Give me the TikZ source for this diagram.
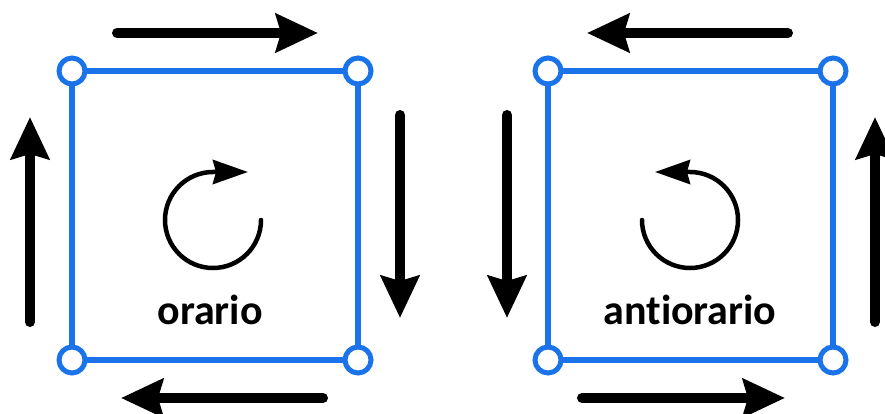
\documentclass[tikz,border=0pt]{standalone}
\usepackage{fontspec}
\setmainfont{Carlito}[Ligatures={NoCommon}]
\usetikzlibrary{arrows.meta}
\definecolor{sqblue}{RGB}{26,115,232}
\begin{document}
\begin{tikzpicture}[x=1pt,y=-1pt,
  edge/.style={draw=sqblue,line width=5.5pt},
  corner/.style={circle,draw=sqblue,fill=white,line width=5pt,minimum size=26pt,inner sep=0pt},
  bigarrow/.style={line width=10pt,line cap=round,-{Stealth[length=42pt,width=38pt,inset=5pt]}},
  rotarrow/.style={line width=4.5pt,line cap=round,-{Stealth[length=35pt,width=24pt,inset=3pt]}},
  label/.style={font=\fontsize{42}{50}\selectfont\bfseries,inner sep=0pt}]
\useasboundingbox (0,0) rectangle (885,414);
% left square (clockwise)
\coordinate (a1) at (72,71); \coordinate (a2) at (358,71);
\coordinate (a3) at (358,360); \coordinate (a4) at (72,360);
\draw[edge] (a1) -- (a2) -- (a3) -- (a4) -- cycle;
\foreach \c in {a1,a2,a3,a4} \node[corner] at (\c) {};
\coordinate (at0) at (117,33); \coordinate (at1) at (318,33);
\coordinate (ar0) at (400,115); \coordinate (ar1) at (400,318);
\coordinate (ab0) at (323,398); \coordinate (ab1) at (121,398);
\coordinate (al0) at (30,322); \coordinate (al1) at (30,117);
\draw[bigarrow] (at0) -- (at1);
\draw[bigarrow] (ar0) -- (ar1);
\draw[bigarrow] (ab0) -- (ab1);
\draw[bigarrow] (al0) -- (al1);
\draw[rotarrow] (261,220) arc[start angle=0,end angle=270,radius=48] -- ++(35,0);
\node[label] (lo) at (210,310) {orario};
% right square (counterclockwise)
\coordinate (b1) at (548,71); \coordinate (b2) at (833,71);
\coordinate (b3) at (833,360); \coordinate (b4) at (548,360);
\draw[edge] (b1) -- (b2) -- (b3) -- (b4) -- cycle;
\foreach \c in {b1,b2,b3,b4} \node[corner] at (\c) {};
\coordinate (bt0) at (788,33); \coordinate (bt1) at (587,33);
\coordinate (bl0) at (507,115); \coordinate (bl1) at (507,318);
\coordinate (bb0) at (582,398); \coordinate (bb1) at (785,398);
\coordinate (br0) at (875,322); \coordinate (br1) at (875,117);
\draw[bigarrow] (bt0) -- (bt1);
\draw[bigarrow] (bl0) -- (bl1);
\draw[bigarrow] (bb0) -- (bb1);
\draw[bigarrow] (br0) -- (br1);
\draw[rotarrow] (642,220) arc[start angle=180,end angle=-90,radius=48] -- ++(-35,0);
\node[label] (la) at (690,310) {antiorario};
\end{tikzpicture}
\end{document}
